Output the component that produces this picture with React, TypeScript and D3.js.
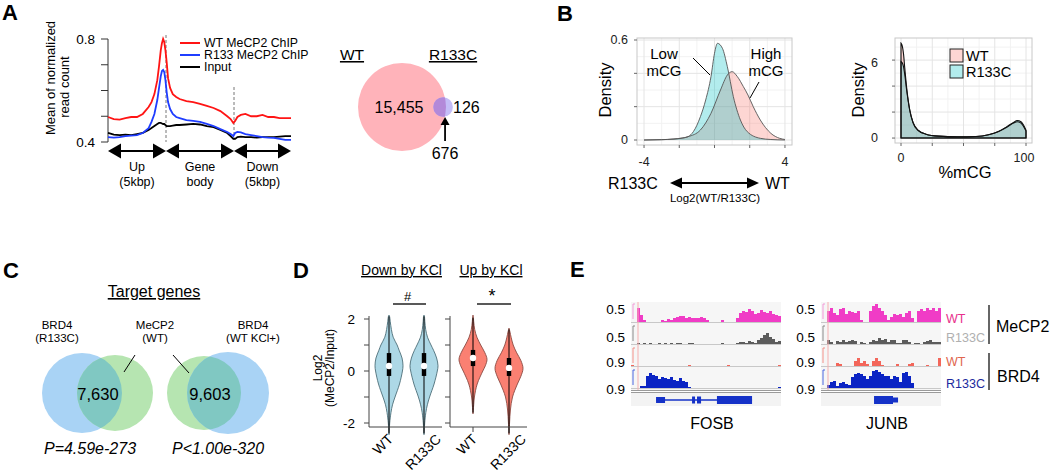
import React from "react";
import * as d3 from "d3";

const FONT = "'Liberation Sans', Arial, Helvetica, sans-serif";

/* ---------------- Panel A: metagene profile ---------------- */
const profilePos = [0, 10, 20, 30, 40, 50, 60, 70, 75, 80, 85, 88, 91, 93, 95, 97, 99, 101, 103, 106, 110, 115, 120, 130, 140, 150, 160, 170, 180, 190, 195, 199, 202, 206, 212, 220, 230, 240, 250, 260, 270, 280, 290, 300];
const wtChip = [0.497, 0.489, 0.487, 0.493, 0.497, 0.497, 0.509, 0.536, 0.555, 0.586, 0.64, 0.695, 0.757, 0.784, 0.8, 0.788, 0.757, 0.71, 0.648, 0.61, 0.586, 0.575, 0.567, 0.559, 0.555, 0.548, 0.54, 0.532, 0.52, 0.5, 0.489, 0.474, 0.482, 0.497, 0.505, 0.509, 0.5, 0.5, 0.505, 0.497, 0.497, 0.493, 0.493, 0.493];
const r133Chip = [0.419, 0.417, 0.419, 0.423, 0.425, 0.427, 0.435, 0.454, 0.478, 0.509, 0.563, 0.61, 0.656, 0.676, 0.68, 0.672, 0.641, 0.594, 0.555, 0.528, 0.509, 0.497, 0.493, 0.485, 0.482, 0.478, 0.47, 0.462, 0.45, 0.439, 0.431, 0.423, 0.435, 0.439, 0.437, 0.431, 0.427, 0.423, 0.419, 0.417, 0.416, 0.412, 0.408, 0.408];
const inputChip = [0.435, 0.429, 0.427, 0.429, 0.427, 0.431, 0.435, 0.447, 0.454, 0.462, 0.47, 0.474, 0.474, 0.472, 0.47, 0.47, 0.466, 0.462, 0.462, 0.462, 0.464, 0.466, 0.466, 0.468, 0.47, 0.468, 0.462, 0.458, 0.447, 0.435, 0.423, 0.412, 0.412, 0.419, 0.421, 0.419, 0.419, 0.417, 0.419, 0.419, 0.419, 0.421, 0.423, 0.423];
const profileNames = ["WT MeCP2 ChIP", "R133 MeCP2 ChIP", "Input"];
const profileColors = ["#ff1414", "#1f3dff", "#000000"];
const profileYTicks = [0.4, 0.5, 0.6, 0.7, 0.8];
const profileYLabels = [0.4, 0.8];
const regionBreaks = [0, 100, 200, 300];
const regionTop = ["Up", "Gene", "Down"];
const regionBottom = ["(5kbp)", "body", "(5kbp)"];

const peakSetNames = ["WT", "R133C"];
const peakCounts = [15455, 676, 126]; // WT only, shared, R133C only

/* ---------------- Panel B ---------------- */
const lowX = [-4, -3, -2.3, -1.8, -1.5, -1.2, -0.8, -0.5, -0.2, 0, 0.17, 0.45, 0.73, 1.07, 1.47, 1.86, 2.6, 3.2, 4];
const lowY = [0, 0.002, 0.006, 0.012, 0.02, 0.05, 0.14, 0.24, 0.38, 0.52, 0.58, 0.55, 0.44, 0.26, 0.12, 0.05, 0.01, 0.003, 0];
const highX = [-4, -3, -2.3, -1.5, -0.8, -0.2, 0.34, 0.73, 1.0, 1.3, 1.64, 1.9, 2.2, 2.6, 3.2, 3.7, 4];
const highY = [0, 0.002, 0.006, 0.02, 0.06, 0.16, 0.3, 0.39, 0.41, 0.38, 0.32, 0.27, 0.2, 0.12, 0.04, 0.01, 0.003];
const ratioTicks = [-4, -2, 0, 2, 4];
const ratioLabels = [-4, 4];
const ratioDensTicks = [0, 0.2, 0.4, 0.6];
const ratioDensLabels = [0, 0.6];

const mcgX = [0, 1, 2, 3, 4.5, 7, 9.6, 13.6, 20, 30, 45, 60, 70, 78, 85, 90, 93, 96, 98, 100];
const wtDens = [7.3, 7.1, 6.5, 5.4, 3.9, 2.15, 1.2, 0.6, 0.3, 0.15, 0.1, 0.12, 0.25, 0.5, 0.85, 1.15, 1.25, 1.15, 0.9, 0.55];
const r133cDens = [5.9, 5.8, 5.5, 4.9, 3.7, 2.15, 1.2, 0.6, 0.3, 0.15, 0.1, 0.12, 0.25, 0.5, 0.9, 1.2, 1.35, 1.25, 1.0, 0.6];
const mcgTicks = [0, 25, 50, 75, 100];
const mcgLabels = [0, 100];
const mcgDensTicks = [0, 2, 4, 6];
const mcgDensLabels = [0, 6];
const densLegend = ["WT", "R133C"];

/* ---------------- Panel C ---------------- */
const targetSetTop = ["BRD4", "MeCP2", "BRD4"];
const targetSetBottom = ["(R133C)", "(WT)", "(WT KCl+)"];
const overlapCounts = ["7,630", "9,603"];
const overlapP = ["P=4.59e-273", "P<1.00e-320"];

/* ---------------- Panel D ---------------- */
const violinGroups = ["Down by KCl", "Up by KCl"];
const violinSig = ["#", "*"];
const violinCats = ["WT", "R133C"];
const violinYTicks = [-2, -1, 0, 1, 2];
const violinYLabels = [-2, 0, 2];
const downWtVals = [-2.45, -2.2, -2, -1.6, -1.3, -1, -0.5, 0, 0.2, 0.5, 0.8, 1.0, 1.3, 1.6, 1.9, 2.1, 2.15];
const downWtDens = [0, 0.03, 0.05, 0.14, 0.25, 0.43, 0.75, 0.96, 1.0, 0.93, 0.72, 0.58, 0.3, 0.17, 0.09, 0.04, 0];
const downMutVals = [-2.45, -2.2, -2, -1.6, -1.3, -1, -0.5, 0, 0.2, 0.5, 0.8, 1.0, 1.3, 1.6, 1.9, 2.1, 2.15];
const downMutDens = [0, 0.03, 0.05, 0.13, 0.24, 0.4, 0.72, 0.95, 1.0, 0.9, 0.68, 0.5, 0.25, 0.12, 0.06, 0.03, 0];
const upWtVals = [-1.65, -1.3, -1, -0.5, 0, 0.2, 0.45, 0.7, 1.0, 1.3, 1.6, 1.9, 2.1, 2.15];
const upWtDens = [0, 0.05, 0.1, 0.3, 0.7, 0.88, 1.0, 0.85, 0.55, 0.28, 0.12, 0.05, 0.02, 0];
const upMutVals = [-2.45, -2, -1.5, -1, -0.5, -0.2, 0.1, 0.4, 0.7, 1.0, 1.3, 1.5, 1.65];
const upMutDens = [0, 0.04, 0.1, 0.25, 0.6, 0.85, 1.0, 0.85, 0.55, 0.3, 0.15, 0.07, 0];
// [whisker low, q1, median, q3, whisker high]
const downWtBox = [-2.4, -0.19, 0.19, 0.69, 2.1];
const downMutBox = [-2.4, -0.19, 0.19, 0.69, 2.1];
const upWtBox = [-1.6, 0.19, 0.5, 0.81, 2.05];
const upMutBox = [-2.4, -0.19, 0.12, 0.5, 1.6];

/* ---------------- Panel E ---------------- */
const fosbMecp2Wt = [0, 0, 0.38, 0.2, 0.05, 0, 0, 0, 0, 0, 0.06, 0.04, 0.08, 0.06, 0.12, 0.15, 0.18, 0.17, 0.12, 0.14, 0.1, 0.12, 0.11, 0.13, 0.1, 0.05, 0, 0, 0, 0, 0.05, 0, 0, 0, 0, 0.1, 0.25, 0.3, 0.28, 0.36, 0.3, 0.22, 0.26, 0.32, 0.28, 0.25, 0.3, 0.22, 0.2, 0.18];
const fosbMecp2Mut = [0, 0, 0.03, 0, 0.02, 0, 0.03, 0, 0, 0.02, 0, 0.03, 0, 0.02, 0, 0.03, 0.02, 0, 0, 0.02, 0.02, 0, 0, 0, 0, 0, 0, 0, 0, 0, 0.03, 0, 0, 0, 0, 0.04, 0.06, 0.05, 0.03, 0.08, 0.05, 0.04, 0.1, 0.18, 0.25, 0.3, 0.2, 0.15, 0.05, 0.08];
const fosbBrd4Wt = [0.06, 0, 0, 0, 0, 0, 0, 0, 0, 0, 0, 0, 0, 0, 0, 0, 0, 0, 0, 0.05, 0, 0, 0, 0, 0, 0, 0, 0, 0, 0, 0, 0, 0.07, 0, 0, 0, 0, 0, 0, 0, 0, 0, 0, 0, 0, 0, 0, 0, 0, 0.05];
const fosbBrd4Mut = [0, 0, 0, 0.1, 0.12, 0.6, 0.75, 0.65, 0.6, 0.45, 0.55, 0.5, 0.45, 0.55, 0.4, 0.35, 0.5, 0.35, 0.3, 0.05, 0, 0, 0, 0, 0, 0, 0, 0, 0, 0, 0, 0, 0, 0, 0, 0, 0, 0, 0, 0, 0, 0, 0, 0, 0, 0, 0, 0, 0, 0.05];
const junbMecp2Wt = [0, 0, 0.3, 0.4, 0.25, 0.2, 0.35, 0.38, 0.22, 0.3, 0.28, 0.25, 0.3, 0.05, 0, 0, 0.3, 0.45, 0.5, 0.4, 0.3, 0.2, 0.05, 0.15, 0.22, 0.2, 0.22, 0.15, 0.25, 0.3, 0.1, 0, 0.3, 0.35, 0.3, 0.38, 0.32, 0.4, 0.3, 0.4];
const junbMecp2Mut = [0, 0, 0.1, 0.05, 0, 0.08, 0.06, 0.1, 0.05, 0.08, 0.12, 0.08, 0, 0.05, 0.04, 0, 0.06, 0.1, 0.08, 0.18, 0.1, 0.15, 0.05, 0.12, 0.1, 0.04, 0.03, 0.1, 0.12, 0.05, 0, 0.04, 0.03, 0, 0.05, 0.08, 0.1, 0.05, 0.06, 0.05];
const junbBrd4Wt = [0, 0, 0, 0, 0, 0.15, 0.1, 0, 0, 0, 0, 0.25, 0.38, 0.15, 0.25, 0.1, 0, 0.25, 0.4, 0.25, 0.05, 0, 0, 0, 0, 0.08, 0, 0, 0, 0.12, 0.15, 0, 0, 0, 0, 0.05, 0, 0, 0, 0.4];
const junbBrd4Mut = [0, 0, 0.15, 0.3, 0.35, 0.1, 0.25, 0.3, 0.2, 0.15, 0.55, 0.7, 0.75, 0.7, 0.6, 0.45, 0.6, 0.85, 0.9, 0.8, 0.7, 0.6, 0.6, 0.45, 0.6, 0.55, 0.3, 0.75, 0.8, 0.6, 0.25, 0, 0, 0, 0, 0, 0, 0, 0, 0];
const trackMax = [0.5, 0.5, 0.9, 0.9];
const trackMaxLabels = ["0.5", "0.5", "0.9", "0.9"];
const trackNames = ["WT", "R133C", "WT", "R133C"];
const trackGroups = ["MeCP2", "BRD4"];
const geneNames = ["FOSB", "JUNB"];
// gene models as fraction of locus
const fosbIntron = [0.167, 0.807];
const fosbExons = [[0.167, 0.227, 6], [0.407, 0.427, 7], [0.44, 0.467, 7], [0.573, 0.807, 8]];
const junbIntron = [0.442, 0.642];
const junbExons = [[0.442, 0.6, 8], [0.6, 0.642, 5]];

export default function App() {
  /* ---------- Panel A ---------- */
  const ax = d3.scaleLinear().domain(regionBreaks).range([108, 166, 234, 291]);
  const ay = d3.scaleLinear().domain([0.4, 0.8]).range([142, 39]);
  const profLine = d3
    .line<number>()
    .x((_, i) => ax(profilePos[i]))
    .y((d) => ay(d));
  const profiles = [wtChip, r133Chip, inputChip];
  const legendY = [43, 55, 67];
  const arrowY = 151;
  const doubleArrow = (x1: number, x2: number, y: number, key: string, hw = 13, hh = 7.5) => (
    <g key={key}>
      <line x1={x1 + hw - 1} x2={x2 - hw + 1} y1={y} y2={y} stroke="#000" strokeWidth={2} />
      <polygon points={`${x1},${y} ${x1 + hw},${y - hh} ${x1 + hw},${y + hh}`} fill="#000" />
      <polygon points={`${x2},${y} ${x2 - hw},${y - hh} ${x2 - hw},${y + hh}`} fill="#000" />
    </g>
  );

  const rScaleA = d3.scaleSqrt().domain([0, peakCounts[0] + peakCounts[1]]).range([0, 44]);
  const rWT = rScaleA(peakCounts[0] + peakCounts[1]);
  const rMut = rScaleA(peakCounts[1] + peakCounts[2]);
  const cWT = { x: 402, y: 107 };
  const cMut = { x: cWT.x + rWT - rMut * 0.3, y: 107 };

  /* ---------- Panel B left ---------- */
  const bx = d3.scaleLinear().domain([-4.4, 4.4]).range([637, 792]);
  const by = d3.scaleLinear().domain([-0.03, 0.612]).range([145, 38]);
  const densArea = (xs: number[], sx: any, sy: any) =>
    d3
      .area<number>()
      .x((_, i) => sx(xs[i]))
      .y0(sy(0))
      .y1((d) => sy(d))
      .curve(d3.curveMonotoneX);
  const densLine = (xs: number[], sx: any, sy: any) =>
    d3
      .line<number>()
      .x((_, i) => sx(xs[i]))
      .y((d) => sy(d))
      .curve(d3.curveMonotoneX);

  /* ---------- Panel B right ---------- */
  const mx = d3.scaleLinear().domain([-4.8, 104.8]).range([895, 1032]);
  const my = d3.scaleLinear().domain([-0.38, 7.7]).range([143, 38]);

  const pinkFill = "#F8766D";
  const cyanFill = "#00BFC4";
  const fillOp = 0.3;

  /* ---------- Panel D ---------- */
  const dy = d3.scaleLinear().domain([-2, 2]).range([423, 319]);
  const violinCenters = [[389, 424], [473, 509]];
  const axisXs = [[369, 442], [450, 527]];
  const catLabelDx = [5, 18];
  const violins = [
    [[downWtVals, downWtDens, downWtBox], [downMutVals, downMutDens, downMutBox]],
    [[upWtVals, upWtDens, upWtBox], [upMutVals, upMutDens, upMutBox]],
  ];
  const violinFill = ["#add8e6", "#fa8072"];
  const violinStroke = ["#4d6e78", "#8a4a42"];
  const violinArea = (vals: number[], cx: number) =>
    d3
      .area<number>()
      .y((_, i) => dy(vals[i]))
      .x0((w) => cx - w * 14)
      .x1((w) => cx + w * 14)
      .curve(d3.curveCatmullRom);

  /* ---------- Panel E ---------- */
  const eTops = [304, 326, 348, 370];
  const eH = 18;
  const loci = [
    { x0: 631, x1: 781, tracks: [fosbMecp2Wt, fosbMecp2Mut, fosbBrd4Wt, fosbBrd4Mut], intron: fosbIntron, exons: fosbExons, labelX: 625, markX: 638 },
    { x0: 821, x1: 941, tracks: [junbMecp2Wt, junbMecp2Mut, junbBrd4Wt, junbBrd4Mut], intron: junbIntron, exons: junbExons, labelX: 815, markX: 828 },
  ];
  const trackColors = ["#f03cc6", "#5c5c5c", "#f3665a", "#0b24c4"];
  const bracketColors = ["#f29ad8", "#8a8a8a", "#f39088", "#4a66e0"];
  const nameColors = ["#e8308c", "#b0b0b0", "#e0664e", "#1c2a9e"];
  const maxLabelY = [309, 337, 362, 389];
  const nameY = [319, 338, 362, 384];

  const underline = (x: number, y: number, text: string, size: number, key: string, anchor = "middle") => (
    <text key={key} x={x} y={y} fontSize={size} textAnchor={anchor} textDecoration="underline" fontFamily={FONT}>
      {text}
    </text>
  );

  return (
    <svg
      width={1050}
      height={476}
      style={{ position: "absolute", left: 0, top: 0, background: "#fff" }}
      fontFamily={FONT}
    >
      <defs>
        <clipPath id="clipWT">
          <circle cx={cWT.x} cy={cWT.y} r={rWT} />
        </clipPath>
        <clipPath id="clipC1">
          <circle cx={82} cy={393} r={40} />
        </clipPath>
        <clipPath id="clipC2">
          <circle cx={228} cy={393} r={41} />
        </clipPath>
      </defs>
      <rect x={0} y={0} width={1050} height={476} fill="#fff" />

      {/* Panel labels */}
      {[["A", 2, 20], ["B", 557, 21], ["C", 3, 278], ["D", 293, 278], ["E", 570, 277]].map(([t, x, y]) => (
        <text key={t as string} x={x as number} y={y as number} fontSize={22} fontWeight="bold">
          {t}
        </text>
      ))}

      {/* ================= Panel A ================= */}
      <g>
        <line x1={108} x2={108} y1={39} y2={142} stroke="#333" strokeWidth={1} />
        {profileYTicks.map((t) => (
          <line key={t} x1={101} x2={108} y1={ay(t)} y2={ay(t)} stroke="#333" strokeWidth={1} />
        ))}
        {profileYLabels.map((t) => (
          <text key={t} x={95} y={ay(t)} fontSize={13.5} textAnchor="end" dominantBaseline="central">
            {t.toFixed(1)}
          </text>
        ))}
        <text transform="translate(55,78) rotate(-90)" fontSize={13} textAnchor="middle">
          Mean of normalized
        </text>
        <text transform="translate(69,87) rotate(-90)" fontSize={13} textAnchor="middle">
          read count
        </text>
        <line x1={ax(100)} x2={ax(100)} y1={35} y2={142} stroke="#777" strokeDasharray="3,2" strokeWidth={1} />
        <line x1={ax(200)} x2={ax(200)} y1={87} y2={142} stroke="#777" strokeDasharray="3,2" strokeWidth={1} />
        {[2, 1, 0].map((i) => (
          <path key={i} d={profLine(profiles[i]) || ""} fill="none" stroke={profileColors[i]} strokeWidth={1.8} />
        ))}
        {profileNames.map((n, i) => (
          <g key={n}>
            <line x1={180} x2={200} y1={legendY[i]} y2={legendY[i]} stroke={profileColors[i]} strokeWidth={2} />
            <text x={204} y={legendY[i]} fontSize={12.3} dominantBaseline="central">
              {n}
            </text>
          </g>
        ))}
        {[0, 1, 2].map((i) => doubleArrow(ax(regionBreaks[i]), ax(regionBreaks[i + 1]), arrowY, "ar" + i))}
        {regionTop.map((t, i) => {
          const cx = (ax(regionBreaks[i]) + ax(regionBreaks[i + 1])) / 2;
          return (
            <g key={t}>
              <text x={cx} y={167} fontSize={12.5} textAnchor="middle" dominantBaseline="central">
                {t}
              </text>
              <text x={cx} y={182} fontSize={12.5} textAnchor="middle" dominantBaseline="central">
                {regionBottom[i]}
              </text>
            </g>
          );
        })}

        {/* Venn peaks */}
        {underline(352, 60, peakSetNames[0], 15.5, "vw")}
        {underline(453, 60, peakSetNames[1], 15.5, "vm")}
        <circle cx={cWT.x} cy={cWT.y} r={rWT} fill="#ffb3ba" />
        <circle cx={cMut.x} cy={cMut.y} r={rMut} fill="#c4bdf7" />
        <circle cx={cMut.x} cy={cMut.y} r={rMut} fill="#b389d9" clipPath="url(#clipWT)" />
        <text x={399} y={107} fontSize={16} textAnchor="middle" dominantBaseline="central">
          {d3.format(",")(peakCounts[0])}
        </text>
        <text x={453} y={107} fontSize={16} dominantBaseline="central">
          {peakCounts[2]}
        </text>
        <line x1={cMut.x + 2} x2={cMut.x + 2} y1={141} y2={123} stroke="#000" strokeWidth={1.8} />
        <polygon points={`${cMut.x + 2},${117} ${cMut.x - 2.5},${125} ${cMut.x + 6.5},${125}`} fill="#000" />
        <text x={cMut.x + 2} y={153} fontSize={16} textAnchor="middle" dominantBaseline="central">
          {peakCounts[1]}
        </text>
      </g>

      {/* ================= Panel B left ================= */}
      <g>
        <rect x={637} y={38} width={155} height={107} fill="#fff" />
        {[-3, -1, 1, 3].map((t) => (
          <line key={"mx" + t} x1={bx(t)} x2={bx(t)} y1={38} y2={145} stroke="#f2f2f2" />
        ))}
        {[0.1, 0.3, 0.5].map((t) => (
          <line key={"my" + t} x1={637} x2={792} y1={by(t)} y2={by(t)} stroke="#f2f2f2" />
        ))}
        {ratioTicks.map((t) => (
          <line key={"gx" + t} x1={bx(t)} x2={bx(t)} y1={38} y2={145} stroke="#e4e4e4" />
        ))}
        {ratioDensTicks.map((t) => (
          <line key={"gy" + t} x1={637} x2={792} y1={by(t)} y2={by(t)} stroke="#e4e4e4" />
        ))}
        <path d={densArea(highX, bx, by)(highY) || ""} fill={pinkFill} fillOpacity={fillOp} />
        <path d={densArea(lowX, bx, by)(lowY) || ""} fill={cyanFill} fillOpacity={fillOp} />
        <path d={densLine(highX, bx, by)(highY) || ""} fill="none" stroke="#555" strokeWidth={0.9} />
        <path d={densLine(lowX, bx, by)(lowY) || ""} fill="none" stroke="#555" strokeWidth={0.9} />
        <rect x={637} y={38} width={155} height={107} fill="none" stroke="#c8c8c8" />
        {ratioTicks.map((t) => (
          <line key={"tx" + t} x1={bx(t)} x2={bx(t)} y1={145} y2={148} stroke="#666" />
        ))}
        {ratioDensTicks.map((t) => (
          <line key={"ty" + t} x1={634} x2={637} y1={by(t)} y2={by(t)} stroke="#666" />
        ))}
        {ratioLabels.map((t) => (
          <text key={"lx" + t} x={bx(t)} y={162} fontSize={12.5} textAnchor="middle" dominantBaseline="central" fill="#222">
            {t}
          </text>
        ))}
        {ratioDensLabels.map((t) => (
          <text key={"ly" + t} x={628} y={by(t)} fontSize={12.5} textAnchor="end" dominantBaseline="central" fill="#222">
            {t}
          </text>
        ))}
        <text transform="translate(605,90) rotate(-90)" fontSize={16.5} textAnchor="middle" dominantBaseline="central">
          Density
        </text>
        <text x={664} y={53} fontSize={15} textAnchor="middle" dominantBaseline="central">Low</text>
        <text x={664} y={70} fontSize={15} textAnchor="middle" dominantBaseline="central">mCG</text>
        <text x={766} y={53} fontSize={15} textAnchor="middle" dominantBaseline="central">High</text>
        <text x={766} y={70} fontSize={15} textAnchor="middle" dominantBaseline="central">mCG</text>
        <line x1={693} y1={58} x2={710} y2={75} stroke="#000" strokeWidth={1} />
        <line x1={759} y1={82} x2={750} y2={98} stroke="#000" strokeWidth={1} />
        <text x={608} y={183} fontSize={16} dominantBaseline="central">R133C</text>
        {doubleArrow(670, 759, 183, "bar", 12, 5.5)}
        <text x={765} y={183} fontSize={16} dominantBaseline="central">WT</text>
        <text x={715} y={198} fontSize={11.5} textAnchor="middle" dominantBaseline="central">
          Log2(WT/R133C)
        </text>
      </g>

      {/* ================= Panel B right ================= */}
      <g>
        {[12.5, 37.5, 62.5, 87.5].map((t) => (
          <line key={"rmx" + t} x1={mx(t)} x2={mx(t)} y1={38} y2={143} stroke="#f2f2f2" />
        ))}
        {[1, 3, 5, 7].map((t) => (
          <line key={"rmy" + t} x1={895} x2={1032} y1={my(t)} y2={my(t)} stroke="#f2f2f2" />
        ))}
        {mcgTicks.map((t) => (
          <line key={"rgx" + t} x1={mx(t)} x2={mx(t)} y1={38} y2={143} stroke="#e4e4e4" />
        ))}
        {mcgDensTicks.map((t) => (
          <line key={"rgy" + t} x1={895} x2={1032} y1={my(t)} y2={my(t)} stroke="#e4e4e4" />
        ))}
        <path d={densArea(mcgX, mx, my)(wtDens) || ""} fill={pinkFill} fillOpacity={fillOp} />
        <path d={densArea(mcgX, mx, my)(r133cDens) || ""} fill={cyanFill} fillOpacity={fillOp} />
        <path d={densArea(mcgX, mx, my)(wtDens) || ""} fill="none" stroke="#111" strokeWidth={1.1} />
        <path d={densArea(mcgX, mx, my)(r133cDens) || ""} fill="none" stroke="#111" strokeWidth={1.1} />
        <rect x={895} y={38} width={137} height={105} fill="none" stroke="#c8c8c8" />
        {mcgTicks.map((t) => (
          <line key={"rtx" + t} x1={mx(t)} x2={mx(t)} y1={143} y2={146} stroke="#666" />
        ))}
        {mcgDensTicks.map((t) => (
          <line key={"rty" + t} x1={892} x2={895} y1={my(t)} y2={my(t)} stroke="#666" />
        ))}
        {mcgLabels.map((t) => (
          <text key={"rlx" + t} x={mx(t) - (t === 100 ? 2 : 0)} y={158} fontSize={12.5} textAnchor="middle" dominantBaseline="central" fill="#222">
            {t}
          </text>
        ))}
        {mcgDensLabels.map((t) => (
          <text key={"rly" + t} x={878} y={my(t) + (t === 6 ? 3 : 0)} fontSize={12.5} textAnchor="end" dominantBaseline="central" fill="#222">
            {t}
          </text>
        ))}
        <text transform="translate(858,90) rotate(-90)" fontSize={16.5} textAnchor="middle" dominantBaseline="central">
          Density
        </text>
        <text x={965} y={172} fontSize={16.5} textAnchor="middle" dominantBaseline="central">
          %mCG
        </text>
        {densLegend.map((n, i) => (
          <g key={n}>
            <rect x={950} y={49 + i * 16} width={13} height={13} fill="#fff" />
            <rect x={950} y={49 + i * 16} width={13} height={13} fill={i === 0 ? pinkFill : cyanFill} fillOpacity={fillOp} stroke="#222" strokeWidth={1} />
            <text x={966} y={55.5 + i * 16} fontSize={14.5} dominantBaseline="central">
              {n}
            </text>
          </g>
        ))}
      </g>

      {/* ================= Panel C ================= */}
      <g>
        {underline(154, 297, "Target genes", 16, "tg")}
        {[57, 155, 253].map((x, i) => (
          <g key={"ts" + i}>
            <text x={x} y={325} fontSize={11.5} textAnchor="middle" dominantBaseline="central">
              {targetSetTop[i]}
            </text>
            <text x={x} y={338} fontSize={11.5} textAnchor="middle" dominantBaseline="central">
              {targetSetBottom[i]}
            </text>
          </g>
        ))}
        <circle cx={82} cy={393} r={40} fill="#a9d3f5" />
        <circle cx={115} cy={393} r={38} fill="#b6e5b1" />
        <circle cx={115} cy={393} r={38} fill="#80c8c2" clipPath="url(#clipC1)" />
        <circle cx={204} cy={393} r={37} fill="#b6e5b1" />
        <circle cx={228} cy={393} r={41} fill="#a9d3f5" />
        <circle cx={204} cy={393} r={37} fill="#80c8c2" clipPath="url(#clipC2)" />
        <line x1={135} y1={355} x2={124} y2={372} stroke="#000" strokeWidth={1} />
        <line x1={173} y1={355} x2={189} y2={373} stroke="#000" strokeWidth={1} />
        <text x={98} y={394} fontSize={16.5} textAnchor="middle" dominantBaseline="central">
          {overlapCounts[0]}
        </text>
        <text x={210} y={394} fontSize={16.5} textAnchor="middle" dominantBaseline="central">
          {overlapCounts[1]}
        </text>
        <text x={90} y={448} fontSize={16} fontStyle="italic" textAnchor="middle" dominantBaseline="central">
          {overlapP[0]}
        </text>
        <text x={218} y={448} fontSize={16} fontStyle="italic" textAnchor="middle" dominantBaseline="central">
          {overlapP[1]}
        </text>
      </g>

      {/* ================= Panel D ================= */}
      <g>
        <text transform="translate(318,368) rotate(-90)" fontSize={12} textAnchor="middle" dominantBaseline="central">
          Log2
        </text>
        <text transform="translate(330,368) rotate(-90)" fontSize={12} textAnchor="middle" dominantBaseline="central">
          (MeCP2/Input)
        </text>
        {violinYLabels.map((t) => (
          <text key={"vl" + t} x={355} y={dy(t)} fontSize={13.5} textAnchor="end" dominantBaseline="central">
            {t}
          </text>
        ))}
        {violinGroups.map((g, gi) => {
          const [ax0, ax1] = axisXs[gi];
          const [c0, c1] = violinCenters[gi];
          return (
            <g key={g}>
              {underline((c0 + c1) / 2 - (gi === 0 ? 5 : 0), 275, g, 14, "vg" + gi)}
              <text x={(c0 + c1) / 2 + 1} y={296} fontSize={gi === 0 ? 13 : 18} textAnchor="middle" dominantBaseline="central">
                {violinSig[gi]}
              </text>
              <line x1={c0 + 4} x2={c1 + 2} y1={304} y2={304} stroke="#222" strokeWidth={1.3} />
              {violins[gi].map((v, vi) => {
                const cx = violinCenters[gi][vi];
                const [vals, dens, box] = v as number[][];
                return (
                  <g key={vi}>
                    <path d={violinArea(vals, cx)(dens) || ""} fill={violinFill[gi]} stroke={violinStroke[gi]} strokeWidth={0.9} />
                    <line x1={cx} x2={cx} y1={dy(box[0])} y2={dy(box[4])} stroke="#000" strokeWidth={1} />
                    <rect x={cx - 2.2} width={4.4} y={dy(box[3])} height={dy(box[1]) - dy(box[3])} fill="#000" />
                    <circle cx={cx} cy={dy(box[2])} r={3.2} fill="#fff" />
                  </g>
                );
              })}
              <line x1={ax0} x2={ax0} y1={316} y2={427} stroke="#444" strokeWidth={1} />
              <line x1={ax0} x2={ax1} y1={427} y2={427} stroke="#444" strokeWidth={1} />
              {violinYTicks.map((t) => (
                <line key={"vt" + t} x1={ax0 - 5} x2={ax0} y1={dy(t)} y2={dy(t)} stroke="#444" />
              ))}
              {violinCats.map((c, ci) => {
                const cx = violinCenters[gi][ci];
                return (
                  <g key={c}>
                    <line x1={cx} x2={cx} y1={427} y2={432} stroke="#444" />
                    <text transform={`translate(${cx + catLabelDx[ci]},${440}) rotate(-45)`} fontSize={14} textAnchor="end">
                      {c}
                    </text>
                  </g>
                );
              })}
            </g>
          );
        })}
      </g>

      {/* ================= Panel E ================= */}
      <g>
        {loci.map((L, li) => {
          const xs = d3.scaleLinear().domain([0, L.tracks[0].length]).range([L.x0, L.x1]);
          const fx = d3.scaleLinear().domain([0, 1]).range([L.x0, L.x1]);
          return (
            <g key={"locus" + li}>
              <rect x={L.x0} y={302} width={L.x1 - L.x0} height={88} fill="#f6f6f6" />
              <rect x={L.x0} y={393} width={L.x1 - L.x0} height={13} fill="#f3f3f3" />
              {L.tracks.map((tr, ti) => {
                const base = eTops[ti] + eH;
                const ys = d3.scaleLinear().domain([0, trackMax[ti]]).range([base, eTops[ti]]);
                return (
                  <g key={"tr" + ti}>
                    {tr.map((v, bi) =>
                      v > 0 ? (
                        <rect
                          key={bi}
                          x={xs(bi)}
                          width={xs(bi + 1) - xs(bi)}
                          y={ys(v)}
                          height={base - ys(v)}
                          fill={trackColors[ti]}
                          shapeRendering="crispEdges"
                        />
                      ) : null
                    )}
                    <line x1={L.x0} x2={L.x1} y1={base + 0.5} y2={base + 0.5} stroke="#c8c8c8" strokeWidth={1} />
                    <path
                      d={`M${L.x0 + 4},${eTops[ti]} L${L.x0 + 2},${eTops[ti]} L${L.x0 + 2},${eTops[ti] + 15}`}
                      fill="none"
                      stroke={bracketColors[ti]}
                      strokeWidth={1}
                    />
                    <text x={L.labelX} y={maxLabelY[ti]} fontSize={13.5} textAnchor="end" dominantBaseline="central">
                      {trackMaxLabels[ti]}
                    </text>
                  </g>
                );
              })}
              <line x1={L.markX} x2={L.markX} y1={302} y2={390} stroke="#f6b0b0" strokeWidth={1} />
              <line x1={L.x0} x2={L.x1} y1={390.5} y2={390.5} stroke="#9a9a9a" strokeWidth={1} />
              <line x1={L.x0} x2={L.x1} y1={392.5} y2={392.5} stroke="#9a9a9a" strokeWidth={1} />
              <line x1={fx(L.intron[0])} x2={fx(L.intron[1])} y1={400} y2={400} stroke="#1532c8" strokeWidth={1.3} />
              {L.exons.map((e, ei) => (
                <rect key={ei} x={fx(e[0])} width={fx(e[1]) - fx(e[0])} y={400 - e[2] / 2} height={e[2]} fill="#1532c8" />
              ))}
              <text x={(L.x0 + L.x1) / 2 + 6} y={423} fontSize={16} textAnchor="middle" dominantBaseline="central">
                {geneNames[li]}
              </text>
            </g>
          );
        })}
        {trackNames.map((n, i) => (
          <text key={"tn" + i} x={946} y={nameY[i]} fontSize={12.5} fill={nameColors[i]} dominantBaseline="central">
            {n}
          </text>
        ))}
        <line x1={989} x2={989} y1={305} y2={344} stroke="#333" strokeWidth={1.5} />
        <line x1={989} x2={989} y1={353} y2={390} stroke="#333" strokeWidth={1.5} />
        <text x={996} y={326} fontSize={16} dominantBaseline="central">
          {trackGroups[0]}
        </text>
        <text x={997} y={376} fontSize={16} dominantBaseline="central">
          {trackGroups[1]}
        </text>
      </g>
    </svg>
  );
}
